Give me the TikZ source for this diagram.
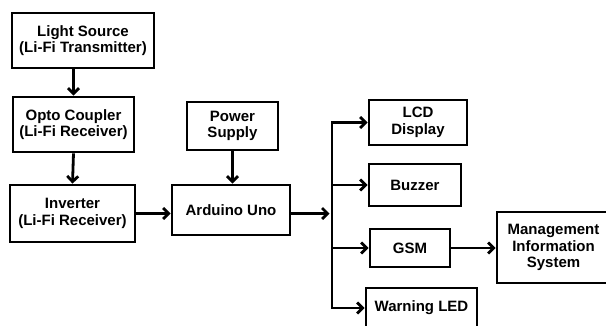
\documentclass[tikz,border=0pt]{standalone}
\usepackage{fontspec}
\setmainfont{Liberation Sans}
\usetikzlibrary{arrows.meta}
\begin{document}
\begin{tikzpicture}[x=1pt,y=-1pt,
  box/.style={draw, line width=2.8pt, align=center, inner sep=0pt,
    font=\fontsize{15}{16.5}\selectfont\bfseries},
  arr/.style={line width=2.8pt, -{Straight Barb[length=5.5pt,width=11pt]}}]
\useasboundingbox (0,0) rectangle (606,325);
\clip (0,0) rectangle (606,325);
\node[box, minimum width=142pt, minimum height=55pt] (light) at (83,40.5) {Light Source\\(Li-Fi Transmitter)};
\node[box, minimum width=121pt, minimum height=55pt] (opto) at (73.5,124.5) {Opto Coupler\\(Li-Fi Receiver)};
\node[box, minimum width=125pt, minimum height=57pt] (inv) at (72.5,213.5) {Inverter\\(Li-Fi Receiver)};
\node[box, minimum width=91pt, minimum height=48pt] (power) at (232.5,126) {Power\\Supply};
\node[box, minimum width=118pt, minimum height=50pt] (ard) at (231,210) {Arduino Uno};
\node[box, minimum width=98pt, minimum height=45pt] (lcd) at (418,122.5) {LCD\\Display};
\node[box, minimum width=92pt, minimum height=42pt] (buz) at (415,185) {Buzzer};
\node[box, minimum width=80pt, minimum height=38pt] (gsm) at (410,248) {GSM};
\node[box, minimum width=113pt, minimum height=71pt] (mis) at (553.5,247.5) {Management\\Information\\System};
\node[box, minimum width=111pt, minimum height=40pt] (wled) at (421.5,308) {Warning LED};
\coordinate (bt) at (332,0);
\draw[arr] (light.south -| opto.north) -- (opto.north);
\draw[arr] (opto.south) -- (inv.north);
\draw[arr] (power.south) -- (power.south |- ard.north);
\draw[arr] (inv.east) -- (inv.east -| ard.west);
\draw[arr, shorten >=2.5pt] (inv.east -| ard.east) -- (inv.east -| bt);
\draw[arr] (bt |- buz.west) -- (bt |- lcd.west) -- (lcd.west);
\draw[arr] (bt |- buz.west) -- (bt |- wled.west) -- (wled.west);
\draw[arr] (bt |- buz.west) -- (buz.west);
\draw[arr] (bt |- gsm.west) -- (gsm.west);
\draw[arr] (gsm.east) -- (gsm.east -| mis.west);
\end{tikzpicture}
\end{document}
